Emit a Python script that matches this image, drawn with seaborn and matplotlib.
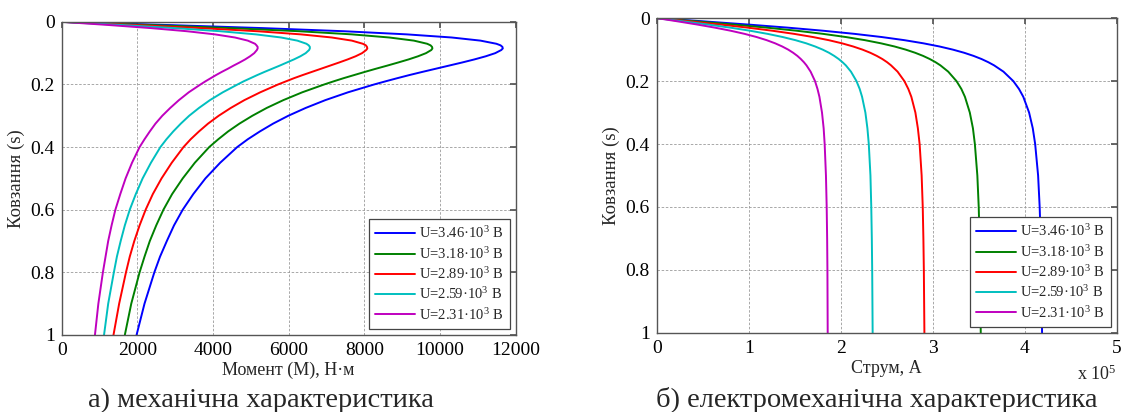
import numpy as np
import pandas as pd
import seaborn as sns
import matplotlib
matplotlib.use("Agg")
import matplotlib.pyplot as plt

# series labels / colours (MATLAB style)
voltages = ["3.46", "3.18", "2.89", "2.59", "2.31"]
colors = ["#0000FF", "#008000", "#FF0000", "#00BFBF", "#BF00BF"]

# mechanical characteristic: slip vs torque, N*m
slip_m = [0, 0.01, 0.02, 0.03, 0.04, 0.05, 0.06, 0.07, 0.075, 0.08, 0.085, 0.09, 0.10, 0.11,
          0.12, 0.13, 0.14, 0.15, 0.16, 0.17, 0.18, 0.19, 0.20, 0.225, 0.25, 0.275, 0.30,
          0.325, 0.35, 0.375, 0.40, 0.45, 0.50, 0.55, 0.60, 0.65, 0.70, 0.75, 0.80, 0.90, 1.00]
torque_346 = [0, 2770, 5310, 7460, 9120, 10310, 11070, 11490, 11600, 11650, 11660, 11620, 11460,
              11210, 10910, 10580, 10230, 9880, 9530, 9190, 8870, 8560, 8260, 7570, 6970, 6450,
              5990, 5590, 5240, 4920, 4640, 4190, 3800, 3480, 3200, 2970, 2780, 2600, 2450, 2190, 1980]
torque_318 = [0, 2330, 4460, 6270, 7670, 8660, 9310, 9660, 9750, 9790, 9800, 9770, 9630,
              9420, 9170, 8890, 8600, 8300, 8010, 7730, 7450, 7190, 6940, 6360, 5860, 5420,
              5040, 4700, 4400, 4140, 3900, 3520, 3200, 2920, 2690, 2500, 2330, 2190, 2060, 1840, 1670]
torque_289 = [0, 1920, 3680, 5170, 6320, 7140, 7670, 7960, 8040, 8070, 8080, 8050, 7940,
              7770, 7560, 7330, 7090, 6850, 6610, 6370, 6140, 5930, 5720, 5250, 4830, 4470,
              4150, 3870, 3630, 3410, 3220, 2910, 2640, 2410, 2220, 2060, 1920, 1800, 1700, 1520, 1370]
torque_259 = [0, 1560, 2990, 4190, 5130, 5800, 6230, 6470, 6530, 6560, 6560, 6540, 6450,
              6310, 6140, 5950, 5760, 5560, 5360, 5170, 4990, 4810, 4650, 4260, 3920, 3630,
              3370, 3150, 2950, 2770, 2610, 2360, 2140, 1960, 1800, 1670, 1560, 1460, 1380, 1230, 1120]
torque_231 = [0, 1230, 2360, 3310, 4050, 4580, 4920, 5110, 5150, 5180, 5180, 5160, 5090,
              4980, 4850, 4700, 4540, 4390, 4230, 4080, 3940, 3800, 3670, 3360, 3100, 2870,
              2660, 2480, 2330, 2190, 2060, 1860, 1690, 1550, 1420, 1320, 1230, 1160, 1090, 970, 880]

# electromechanical characteristic: slip vs current, x 10^5 A
slip_i = [0, 0.01, 0.02, 0.03, 0.04, 0.05, 0.06, 0.07, 0.08, 0.09, 0.10, 0.11, 0.12, 0.13,
          0.14, 0.15, 0.17, 0.20, 0.225, 0.25, 0.30, 0.35, 0.40, 0.50, 0.60, 0.70, 0.80, 1.00]
current_346 = [0, 0.497, 0.974, 1.414, 1.807, 2.150, 2.444, 2.692, 2.899, 3.073, 3.219, 3.342,
               3.445, 3.532, 3.605, 3.668, 3.770, 3.877, 3.939, 3.986, 4.049, 4.089, 4.115,
               4.147, 4.164, 4.175, 4.182, 4.190]
current_318 = [0, 0.418, 0.819, 1.188, 1.519, 1.808, 2.054, 2.263, 2.437, 2.584, 2.706, 2.809,
               2.896, 2.969, 3.031, 3.084, 3.169, 3.259, 3.312, 3.351, 3.404, 3.438, 3.459,
               3.486, 3.501, 3.510, 3.516, 3.523]
current_289 = [0, 0.345, 0.676, 0.982, 1.255, 1.493, 1.697, 1.869, 2.013, 2.134, 2.236, 2.321,
               2.392, 2.453, 2.504, 2.547, 2.618, 2.692, 2.735, 2.768, 2.812, 2.839, 2.858,
               2.880, 2.892, 2.899, 2.904, 2.910]
current_259 = [0, 0.278, 0.545, 0.792, 1.012, 1.204, 1.368, 1.507, 1.624, 1.721, 1.803, 1.872,
               1.929, 1.978, 2.019, 2.055, 2.111, 2.171, 2.206, 2.232, 2.268, 2.290, 2.305,
               2.323, 2.332, 2.338, 2.342, 2.347]
current_231 = [0, 0.220, 0.432, 0.627, 0.802, 0.954, 1.084, 1.194, 1.286, 1.363, 1.428, 1.482,
               1.528, 1.566, 1.599, 1.627, 1.672, 1.720, 1.747, 1.768, 1.796, 1.814, 1.825,
               1.839, 1.847, 1.852, 1.855, 1.858]

torques = [torque_346, torque_318, torque_289, torque_259, torque_231]
currents = [current_346, current_318, current_289, current_259, current_231]

sns.set_theme(style="white")
plt.rcParams['font.family'] = ['Liberation Serif', 'DejaVu Serif']
plt.rcParams['mathtext.fontset'] = 'custom'
plt.rcParams['mathtext.rm'] = 'Liberation Serif'
plt.rcParams['mathtext.it'] = 'Liberation Serif'

fig = plt.figure(figsize=(11.21, 4.12), dpi=100)
ax1 = fig.add_axes([0.055, 0.187, 0.405, 0.760])
ax2 = fig.add_axes([0.586, 0.192, 0.410, 0.764])


def draw(ax, slip, series):
    for vals, u, c in zip(series, voltages, colors):
        df = pd.DataFrame({'x': vals, 's': slip})
        sns.lineplot(data=df, x='x', y='s', sort=False, estimator=None, color=c,
                     linewidth=1.4, label="U=" + u + "·10$^3$ В", ax=ax)
    ax.set_ylim(1, 0)
    ax.set_yticks([0, 0.2, 0.4, 0.6, 0.8, 1])
    ax.set_yticklabels(["0", "0.2", "0.4", "0.6", "0.8", "1"])
    ax.grid(True, linestyle=(0, (3, 2)), color="#9a9a9a", linewidth=0.6)
    for sp in ax.spines.values():
        sp.set_color("#555555")
        sp.set_linewidth(1.0)
    ax.tick_params(direction='in', length=4, labelsize=14, colors="#555555",
                   labelcolor="black", top=True, right=True, pad=5)
    ax.set_ylabel("Ковзання (s)", fontsize=13.5, labelpad=4)
    leg = ax.legend(loc="lower right", fontsize=10.5, frameon=True, fancybox=False,
                    framealpha=1, edgecolor="#444444", handlelength=2.7, handletextpad=0.3,
                    labelspacing=0.3, borderpad=0.45, borderaxespad=0.4)
    leg.get_frame().set_linewidth(0.9)


draw(ax1, slip_m, torques)
ax1.set_xlim(0, 12000)
ax1.set_xticks(np.arange(0, 12001, 2000))
ax1.set_xlabel("Момент (М), Н·м", fontsize=13, labelpad=2)

draw(ax2, slip_i, currents)
ax2.set_xlim(0, 5)
ax2.set_xticks([0, 1, 2, 3, 4, 5])
ax2.set_xticklabels(["0", "1", "2", "3", "4", "5"])
ax2.set_xlabel("Струм, А", fontsize=13, labelpad=2)
fig.text(0.996, 0.092, "x 10$^5$", fontsize=13, ha="right", va="center")

fig.text(0.233, 0.028, "а) механічна характеристика", fontsize=20.5, ha="center", va="center")
fig.text(0.782, 0.028, "б) електромеханічна характеристика", fontsize=20.5, ha="center", va="center")

fig.savefig("out.png", dpi=100)
